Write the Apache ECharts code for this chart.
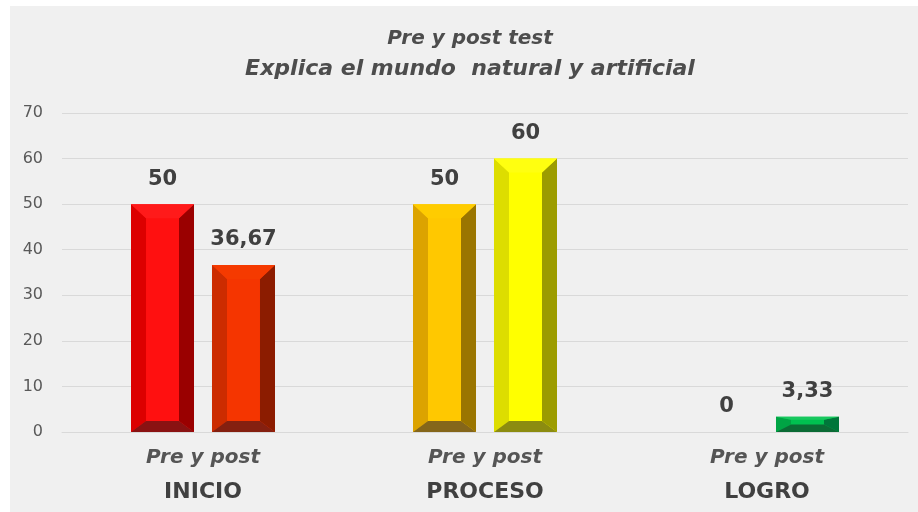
<!DOCTYPE html>
<html>
<head>
<meta charset="utf-8">
<script src="https://cdn.jsdelivr.net/npm/echarts@6/dist/echarts.min.js"></script>
<style>
  html, body { margin: 0; padding: 0; background: #ffffff; }
  #chart {
    position: absolute;
    left: 10px;
    top: 6px;
    width: 908px;
    height: 506px;
    background: #f0f0f0;
  }
</style>
</head>
<body>
<div id="chart"></div>
<script>
  const categories = ['INICIO', 'PROCESO', 'LOGRO']
  const subLabel = 'Pre y post'
  const preValues = [50, 50, 0]
  const postValues = [36.67, 60, 3.33]
  const yTicks = { min: 0, max: 70, interval: 10 }

  // face / left / right / top / bottom shades for each bar
  const prePalette = [
    { face: '#ff1010', left: '#dc0000', right: '#9a0000', top: '#ff1a1a', bottom: '#8a1212' },
    { face: '#ffc800', left: '#dca300', right: '#9a7500', top: '#ffcc00', bottom: '#85661a' },
    { face: '#00c050', left: '#00a444', right: '#00763a', top: '#18c85e', bottom: '#0b6b35' },
  ]
  const postPalette = [
    { face: '#f53500', left: '#cc2c00', right: '#8c1c00', top: '#f53a00', bottom: '#852010' },
    { face: '#ffff00', left: '#dddd00', right: '#9c9c00', top: '#ffff10', bottom: '#8c8c10' },
    { face: '#00c050', left: '#00a444', right: '#00763a', top: '#18c85e', bottom: '#0b6b35' },
  ]

  const fmt = (v) => String(v).replace('.', ',')

  function bevelBar(offset, palette) {
    return function (params, api) {
      const idx = api.value(0)
      const val = api.value(1)
      const base = api.coord([idx, 0])
      const top = api.coord([idx, val])
      const cw = api.size([1, 0])[0]
      const w = cw * 0.2234
      const cx = base[0] + offset * cw
      const x0 = cx - w / 2
      const x1 = cx + w / 2
      const y0 = top[1]
      const y1 = base[1]
      const h = y1 - y0
      const c = palette[idx]
      const children = []
      if (h > 0.5) {
        const bs = Math.min(15, w / 2)
        const bt = Math.min(14, h * 0.2)
        const bb = Math.min(11, h * 0.5)
        children.push(
          { type: 'rect', shape: { x: x0, y: y0, width: w, height: h }, style: { fill: c.face } },
          { type: 'polygon', shape: { points: [[x0, y0], [x0 + bs, y0 + bt], [x0 + bs, y1 - bb], [x0, y1]] }, style: { fill: c.left } },
          { type: 'polygon', shape: { points: [[x1, y0], [x1 - bs, y0 + bt], [x1 - bs, y1 - bb], [x1, y1]] }, style: { fill: c.right } },
          { type: 'polygon', shape: { points: [[x0, y0], [x1, y0], [x1 - bs, y0 + bt], [x0 + bs, y0 + bt]] }, style: { fill: c.top } },
          { type: 'polygon', shape: { points: [[x0, y1], [x1, y1], [x1 - bs, y1 - bb], [x0 + bs, y1 - bb]] }, style: { fill: c.bottom } }
        )
      }
      children.push({
        type: 'text',
        style: {
          text: fmt(val),
          x: cx,
          y: y0 - 25,
          align: 'center',
          verticalAlign: 'middle',
          fill: '#404040',
          font: 'bold 21px "DejaVu Sans"',
        },
      })
      return { type: 'group', children }
    }
  }

  const chart = echarts.init(document.getElementById('chart'))
  chart.setOption({
    animation: false,
    title: {
      text: '{a|Pre y post test}\n{b|Explica el mundo  natural y artificial}',
      left: 455,
      top: 12,
      textAlign: 'center',
      textStyle: {
        rich: {
          a: {
            fontFamily: 'DejaVu Sans',
            fontStyle: 'italic',
            fontWeight: 'bold',
            fontSize: 20,
            lineHeight: 31,
            color: '#4d4d4d',
          },
          b: {
            fontFamily: 'DejaVu Sans',
            fontStyle: 'italic',
            fontWeight: 'bold',
            fontSize: 22,
            lineHeight: 31,
            color: '#4d4d4d',
          },
        },
      },
    },
    grid: {
      left: 52,
      right: 10,
      top: 107,
      bottom: 80,
    },
    xAxis: {
      type: 'category',
      data: categories,
      axisTick: { show: false },
      axisLine: { lineStyle: { color: '#d9d9d9' } },
      axisLabel: {
        margin: 8,
        formatter: (v) => `{a|${subLabel}}\n{b|${v}}`,
        rich: {
          a: {
            fontFamily: 'DejaVu Sans',
            fontStyle: 'italic',
            fontWeight: 'bold',
            fontSize: 20,
            lineHeight: 35,
            color: '#555555',
          },
          b: {
            fontFamily: 'DejaVu Sans',
            fontWeight: 'bold',
            fontSize: 22,
            lineHeight: 35,
            color: '#404040',
          },
        },
      },
    },
    yAxis: {
      type: 'value',
      min: yTicks.min,
      max: yTicks.max,
      interval: yTicks.interval,
      axisLine: { show: false },
      axisTick: { show: false },
      axisLabel: {
        margin: 19,
        color: '#595959',
        fontFamily: 'DejaVu Sans',
        fontSize: 16,
      },
      splitLine: { lineStyle: { color: '#d9d9d9' } },
    },
    series: [
      {
        type: 'custom',
        name: 'Pre',
        renderItem: bevelBar(-0.1436, prePalette),
        data: preValues.map((v, i) => [i, v]),
      },
      {
        type: 'custom',
        name: 'Post',
        renderItem: bevelBar(0.1436, postPalette),
        data: postValues.map((v, i) => [i, v]),
      },
    ],
  })
</script>
</body>
</html>
